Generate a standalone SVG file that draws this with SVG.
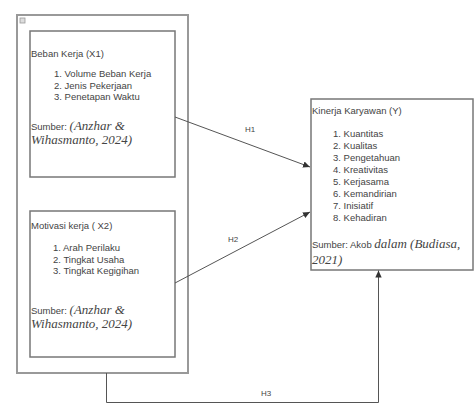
<svg xmlns="http://www.w3.org/2000/svg" width="475" height="405" viewBox="0 0 475 405">
<defs>
<marker id="ah" markerWidth="8" markerHeight="8" refX="7" refY="4" orient="auto" markerUnits="userSpaceOnUse">
<path d="M0,0.8 L7,4 L0,7.2 Z" fill="#333"/>
</marker>
<style>
.box{fill:#fff;stroke:#777;stroke-width:1.5}
.outer{fill:#fff;stroke:#999;stroke-width:2}
.t{font-family:"Liberation Sans",Arial,sans-serif;font-size:9.5px;fill:#444}
.i{font-family:"Liberation Serif","Times New Roman",serif;font-style:italic;font-size:13px;fill:#444}
.lbl{font-family:"Liberation Sans",Arial,sans-serif;font-size:8px;fill:#444}
.c{fill:none;stroke:#555;stroke-width:1}
</style>
</defs>
<rect width="475" height="405" fill="#fff"/>
<g id="outer">
<rect class="outer" x="17" y="15" width="171" height="358"/>
<rect x="20" y="18" width="5" height="5" fill="#ddd" stroke="#999" stroke-width="0.8"/>
</g>
<g id="x1">
<rect class="box" x="30" y="31" width="145" height="146"/>
<text class="t" x="31" y="57">Beban Kerja (X1)</text>
<text class="t" x="54" y="77">1. Volume Beban Kerja</text>
<text class="t" x="54" y="88.5">2. Jenis Pekerjaan</text>
<text class="t" x="54" y="100">3. Penetapan Waktu</text>
<text x="31" y="130"><tspan class="t">Sumber: </tspan><tspan class="i">(Anzhar &amp;</tspan></text>
<text class="i" x="31" y="144">Wihasmanto, 2024)</text>
</g>
<g id="x2">
<rect class="box" x="30" y="211" width="145" height="146"/>
<text class="t" x="31" y="228.5">Motivasi kerja ( X2)</text>
<text class="t" x="53" y="251">1. Arah Perilaku</text>
<text class="t" x="53" y="262.5">2. Tingkat Usaha</text>
<text class="t" x="53" y="274">3. Tingkat Kegigihan</text>
<text x="31" y="314"><tspan class="t">Sumber: </tspan><tspan class="i">(Anzhar &amp;</tspan></text>
<text class="i" x="31" y="328">Wihasmanto, 2024)</text>
</g>
<g id="y">
<rect class="box" x="311" y="99" width="162" height="171"/>
<text class="t" x="312" y="113.5">Kinerja Karyawan (Y)</text>
<text class="t" x="333" y="136.5">1. Kuantitas</text>
<text class="t" x="333" y="148.5">2. Kualitas</text>
<text class="t" x="333" y="160.5">3. Pengetahuan</text>
<text class="t" x="333" y="172.5">4. Kreativitas</text>
<text class="t" x="333" y="184.5">5. Kerjasama</text>
<text class="t" x="333" y="196.5">6. Kemandirian</text>
<text class="t" x="333" y="208.5">7. Inisiatif</text>
<text class="t" x="333" y="220.5">8. Kehadiran</text>
<text x="312" y="248"><tspan class="t">Sumber: Akob </tspan><tspan class="i">dalam (Budiasa,</tspan></text>
<text class="i" x="312" y="264">2021)</text>
</g>
<g id="connectors">
<line class="c" x1="175" y1="117" x2="310" y2="167" marker-end="url(#ah)"/>
<line class="c" x1="175" y1="283" x2="310" y2="212" marker-end="url(#ah)"/>
<polyline class="c" points="106.5,373 106.5,402.5 378.5,402.5 378.5,270.5" marker-end="url(#ah)"/>
<text class="lbl" x="250" y="132" text-anchor="middle">H1</text>
<text class="lbl" x="233" y="242" text-anchor="middle">H2</text>
<text class="lbl" x="266" y="396" text-anchor="middle">H3</text>
</g>
</svg>
